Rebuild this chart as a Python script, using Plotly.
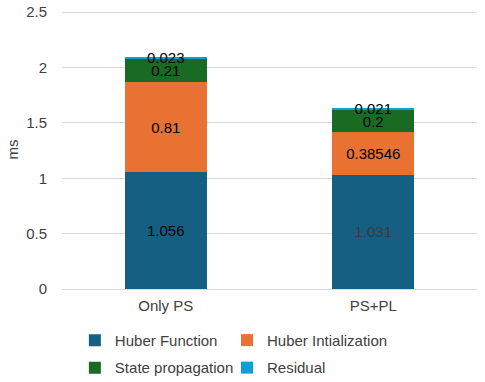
import plotly.graph_objects as go

categories = ["Only PS", "PS+PL"]
series_names = ["Huber Function", "Huber Intialization", "State propagation", "Residual"]
huber_function = [1.056, 1.031]
huber_init = [0.81, 0.38546]
state_prop = [0.21, 0.2]
residual = [0.023, 0.021]
colors = ["#156082", "#E97132", "#196B24", "#0F9ED5"]
text_colors = [["#000000", "#3A3A3A"], ["#000000", "#000000"], ["#000000", "#000000"], ["#000000", "#000000"]]
legend_cols = ["legend", "legend2", "legend", "legend2"]

values = [huber_function, huber_init, state_prop, residual]

fig = go.Figure()
for name, vals, col, tc, lg in zip(series_names, values, colors, text_colors, legend_cols):
    fig.add_trace(go.Bar(
        x=categories, y=vals, name=name,
        marker=dict(color=col, line=dict(width=0)),
        text=[str(v) for v in vals],
        textposition="inside", insidetextanchor="middle",
        textfont=dict(color=tc, size=15, family="Liberation Sans"),
        constraintext="none",
        legend=lg, legendgroup=name,
        hoverinfo="skip",
    ))

leg_common = dict(orientation="v", yanchor="top", y=-0.125, xanchor="left",
                  font=dict(size=15, color="#404040"), traceorder="grouped",
                  itemwidth=30, tracegroupgap=5, bgcolor="rgba(0,0,0,0)")

fig.update_layout(
    barmode="stack",
    bargap=0.605,
    width=485, height=382,
    margin=dict(l=62, r=8, t=10, b=93, autoexpand=False),
    paper_bgcolor="white", plot_bgcolor="white",
    font=dict(family="Liberation Sans", size=15, color="#404040"),
    uniformtext=dict(minsize=15, mode="show"),
    showlegend=True,
    legend=dict(x=0.031, **leg_common),
    legend2=dict(x=0.3976, **leg_common),
    yaxis=dict(range=[0, 2.52], tickvals=[0, 0.5, 1, 1.5, 2, 2.5],
               ticktext=["0", "0.5", "1", "1.5", "2", "2.5"],
               showgrid=True, gridcolor="#D9D9D9", gridwidth=1,
               zeroline=True, zerolinecolor="#D9D9D9", zerolinewidth=1,
               tickfont=dict(size=15, color="#404040"), ticks="", ticklabelstandoff=14,
               ticklabeloverflow="allow",
               title=dict(text="ms", font=dict(size=15, color="#404040"), standoff=3)),
    xaxis=dict(showgrid=False, tickfont=dict(size=15, color="#404040"), ticks="",
               showline=False, ticklabelstandoff=6),
)

fig.write_html("out.html", config={"displayModeBar": False},
               post_script="document.body.style.margin='0';")
